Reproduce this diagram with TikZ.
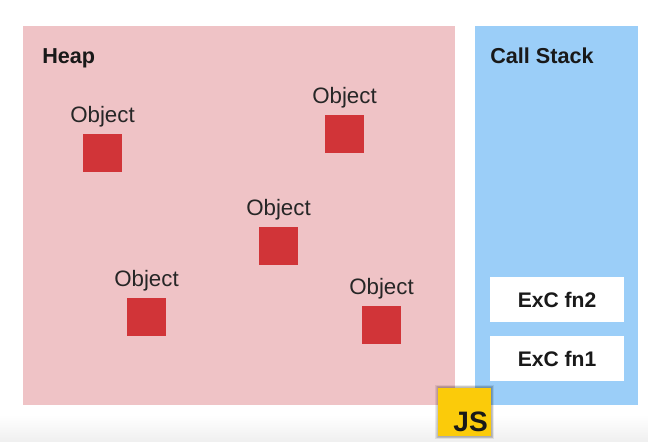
\documentclass[tikz,border=0pt]{standalone}
\usepackage{fontspec}
\setmainfont{Liberation Sans}
\usetikzlibrary{positioning}
\definecolor{heapred}{HTML}{EFC3C6}
\definecolor{stackblue}{HTML}{9BCEF8}
\definecolor{objred}{HTML}{D13438}
\definecolor{jsyellow}{HTML}{FBCB0A}
\tikzset{
	area/.style={anchor=north west,inner sep=0pt,outer sep=0pt},
	title/.style={anchor=base west,inner sep=0pt,font=\fontsize{12.3}{14}\selectfont\bfseries,text=black!90},
	object/.style={minimum size=0.77cm,inner sep=0pt,outer sep=0pt,fill=objred},
	objlabel/.style={above=3.7pt,inner sep=0pt,text height=9.5pt,text depth=2.6pt,font=\fontsize{12.7}{14}\selectfont,text=black!85},
	exc/.style={minimum width=2.68cm,minimum height=0.9cm,inner sep=0pt,fill=white,font=\fontsize{12}{14}\selectfont\bfseries,text=black!90},
}
\begin{document}
\begin{tikzpicture}[x=0.02cm,y=-0.02cm]
	\useasboundingbox (0,0) rectangle (648,441);
	% bottom fade
	\shade[top color=white,bottom color=black!6] (0,415) rectangle (648,441);
	% the two areas
	\node[area,fill=heapred,minimum width=8.66cm,minimum height=7.58cm] (heap) at (22.5,26) {};
	\node[area,fill=stackblue,minimum width=3.26cm,minimum height=7.58cm] (stack) at (475,26) {};
	\node[title] (heaptitle) at (42,63) {Heap};
	\node[title] (stacktitle) at (490,63) {Call Stack};
	% objects
	\node[object] (obja) at (102.5,153) {};
	\node[object] (objb) at (344.5,134) {};
	\node[object] (objc) at (278.5,246) {};
	\node[object] (objd) at (146.5,317) {};
	\node[object] (obje) at (381.5,325) {};
	\foreach \n in {obja,objb,objc,objd,obje}
		\node[objlabel] (\n label) at (\n.north) {Object};
	% execution contexts
	\node[exc] (fntwo) at (557,299.5) {ExC fn2};
	\node[exc] (fnone) at (557,358.5) {ExC fn1};
	% logo
	\foreach \g in {0.8,1.6,2.4,3.2}
		\fill[black,opacity=0.08] (438.5-\g,388-\g) rectangle (491+\g,436+\g);
	\node[minimum width=1.05cm,minimum height=0.96cm,inner sep=0pt,fill=jsyellow] (js) at (464.7,412) {};
	\node[anchor=south east,inner sep=0pt,font=\fontsize{16}{17}\selectfont\bfseries,text=black!90] (jstext) at ([xshift=-1.8pt,yshift=2.2pt]js.south east) {JS};
\end{tikzpicture}
\end{document}
